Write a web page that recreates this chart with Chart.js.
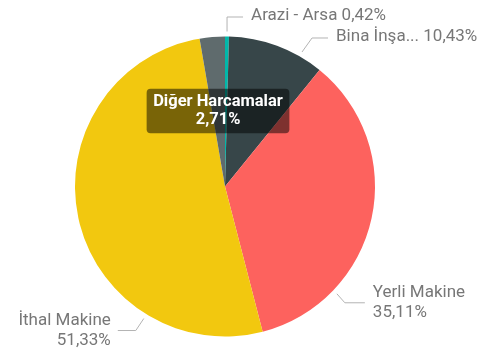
<!DOCTYPE html>
<html>
<head>
<meta charset="utf-8">
<script src="https://cdn.jsdelivr.net/npm/chart.js@4.4.0/dist/chart.umd.min.js"></script>
<style>
  html, body { margin: 0; padding: 0; background: #fff; }
  #wrap { width: 478px; height: 351px; position: relative; }
</style>
</head>
<body>
<div id="wrap"><canvas id="pieChart" width="478" height="351"></canvas></div>
<script>
var categories = ['Arazi - Arsa', 'Bina İnşaatı', 'Yerli Makine', 'İthal Makine', 'Diğer Harcamalar'];
var shares = [0.42, 10.43, 35.11, 51.33, 2.71];
var sliceColors = ['#01B8AA', '#374649', '#FD625E', '#F2C80F', '#5F6B6D'];

var FONT = 'Roboto, "DejaVu Sans", sans-serif';

function pct(v) {
    return v.toFixed(2).replace('.', ',') + '%';
}

// callouts: which slice, where the leader leaves the pie (deg from top, null = mid angle),
// the elbow offset from that point and the horizontal run before the text
var callouts = [
    { index: 0, angle: null, elbow: [0, -14.5], run: 16, twoLine: false },
    { index: 1, angle: 29.8, elbow: [10, -14], run: 16, twoLine: false, maxChars: 9 },
    { index: 2, angle: 133.8, elbow: [8, 9], run: 20, twoLine: true },
    { index: 3, angle: 211.6, elbow: [-8, 12], run: -18, twoLine: true }
];

var calloutPlugin = {
    id: 'callouts',
    afterDatasetsDraw: function (chart) {
        var ctx = chart.ctx;
        var meta = chart.getDatasetMeta(0);
        ctx.save();
        callouts.forEach(function (c) {
            var arc = meta.data[c.index];
            var a;
            if (c.angle === null) {
                a = (arc.startAngle + arc.endAngle) / 2;
            } else {
                a = c.angle * Math.PI / 180 - Math.PI / 2;
            }
            var r = arc.outerRadius + 5;
            var x0 = arc.x + Math.cos(a) * r;
            var y0 = arc.y + Math.sin(a) * r;
            var x1 = x0 + c.elbow[0];
            var y1 = y0 + c.elbow[1];
            var x2 = x1 + c.run;

            ctx.strokeStyle = '#b3b3b3';
            ctx.lineWidth = 1;
            ctx.beginPath();
            ctx.moveTo(x0, y0);
            ctx.lineTo(x1, y1);
            ctx.lineTo(x2, y1);
            ctx.stroke();

            var name = categories[c.index];
            if (c.maxChars && name.length > c.maxChars) {
                name = name.slice(0, c.maxChars) + '...';
            }
            var value = pct(shares[c.index]);
            var right = c.run > 0;
            ctx.fillStyle = '#777777';
            ctx.font = '17px ' + FONT;
            ctx.textBaseline = 'middle';
            ctx.textAlign = right ? 'left' : 'right';
            var tx = right ? x2 + 8 : x2 - 7;
            if (c.twoLine) {
                ctx.fillText(name, tx, y1 - 10);
                ctx.fillText(value, tx, y1 + 10);
            } else {
                ctx.fillText(name + ' ' + value, tx, y1 - 1);
            }
        });
        ctx.restore();
    }
};

Chart.Tooltip.positioners.pinned = function (items, eventPosition) {
    return { x: eventPosition.x, y: eventPosition.y };
};

var canvas = document.getElementById('pieChart');
var chart = new Chart(canvas.getContext('2d'), {
    type: 'pie',
    data: {
        labels: categories,
        datasets: [{
            data: shares,
            backgroundColor: sliceColors,
            borderWidth: 0,
            hoverOffset: 0
        }]
    },
    options: {
        responsive: false,
        animation: false,
        events: [],
        layout: {
            padding: { left: 75, right: 103, top: 36.5, bottom: 14.5 }
        },
        plugins: {
            legend: { display: false },
            tooltip: {
                enabled: true,
                position: 'pinned',
                xAlign: 'center',
                yAlign: 'center',
                caretSize: 0,
                caretPadding: 0,
                cornerRadius: 4,
                backgroundColor: 'rgba(0, 0, 0, 0.5)',
                displayColors: false,
                padding: { left: 6.5, right: 6.5, top: 4, bottom: 4 },
                titleAlign: 'center',
                bodyAlign: 'center',
                titleColor: '#ffffff',
                bodyColor: '#ffffff',
                titleFont: { family: FONT, size: 16.5, weight: 'bold', lineHeight: 1.1 },
                bodyFont: { family: FONT, size: 16.5, weight: 'bold', lineHeight: 1.1 },
                titleMarginBottom: 0,
                titleSpacing: 0,
                bodySpacing: 0,
                callbacks: {
                    title: function (items) { return items[0].label; },
                    label: function (item) { return pct(item.raw); }
                }
            }
        }
    },
    plugins: [calloutPlugin]
});

// keep the tooltip for the "Diğer Harcamalar" slice open
chart.tooltip.setActiveElements([{ datasetIndex: 0, index: 4 }], { x: 218, y: 111 });
chart.update();
</script>
</body>
</html>
